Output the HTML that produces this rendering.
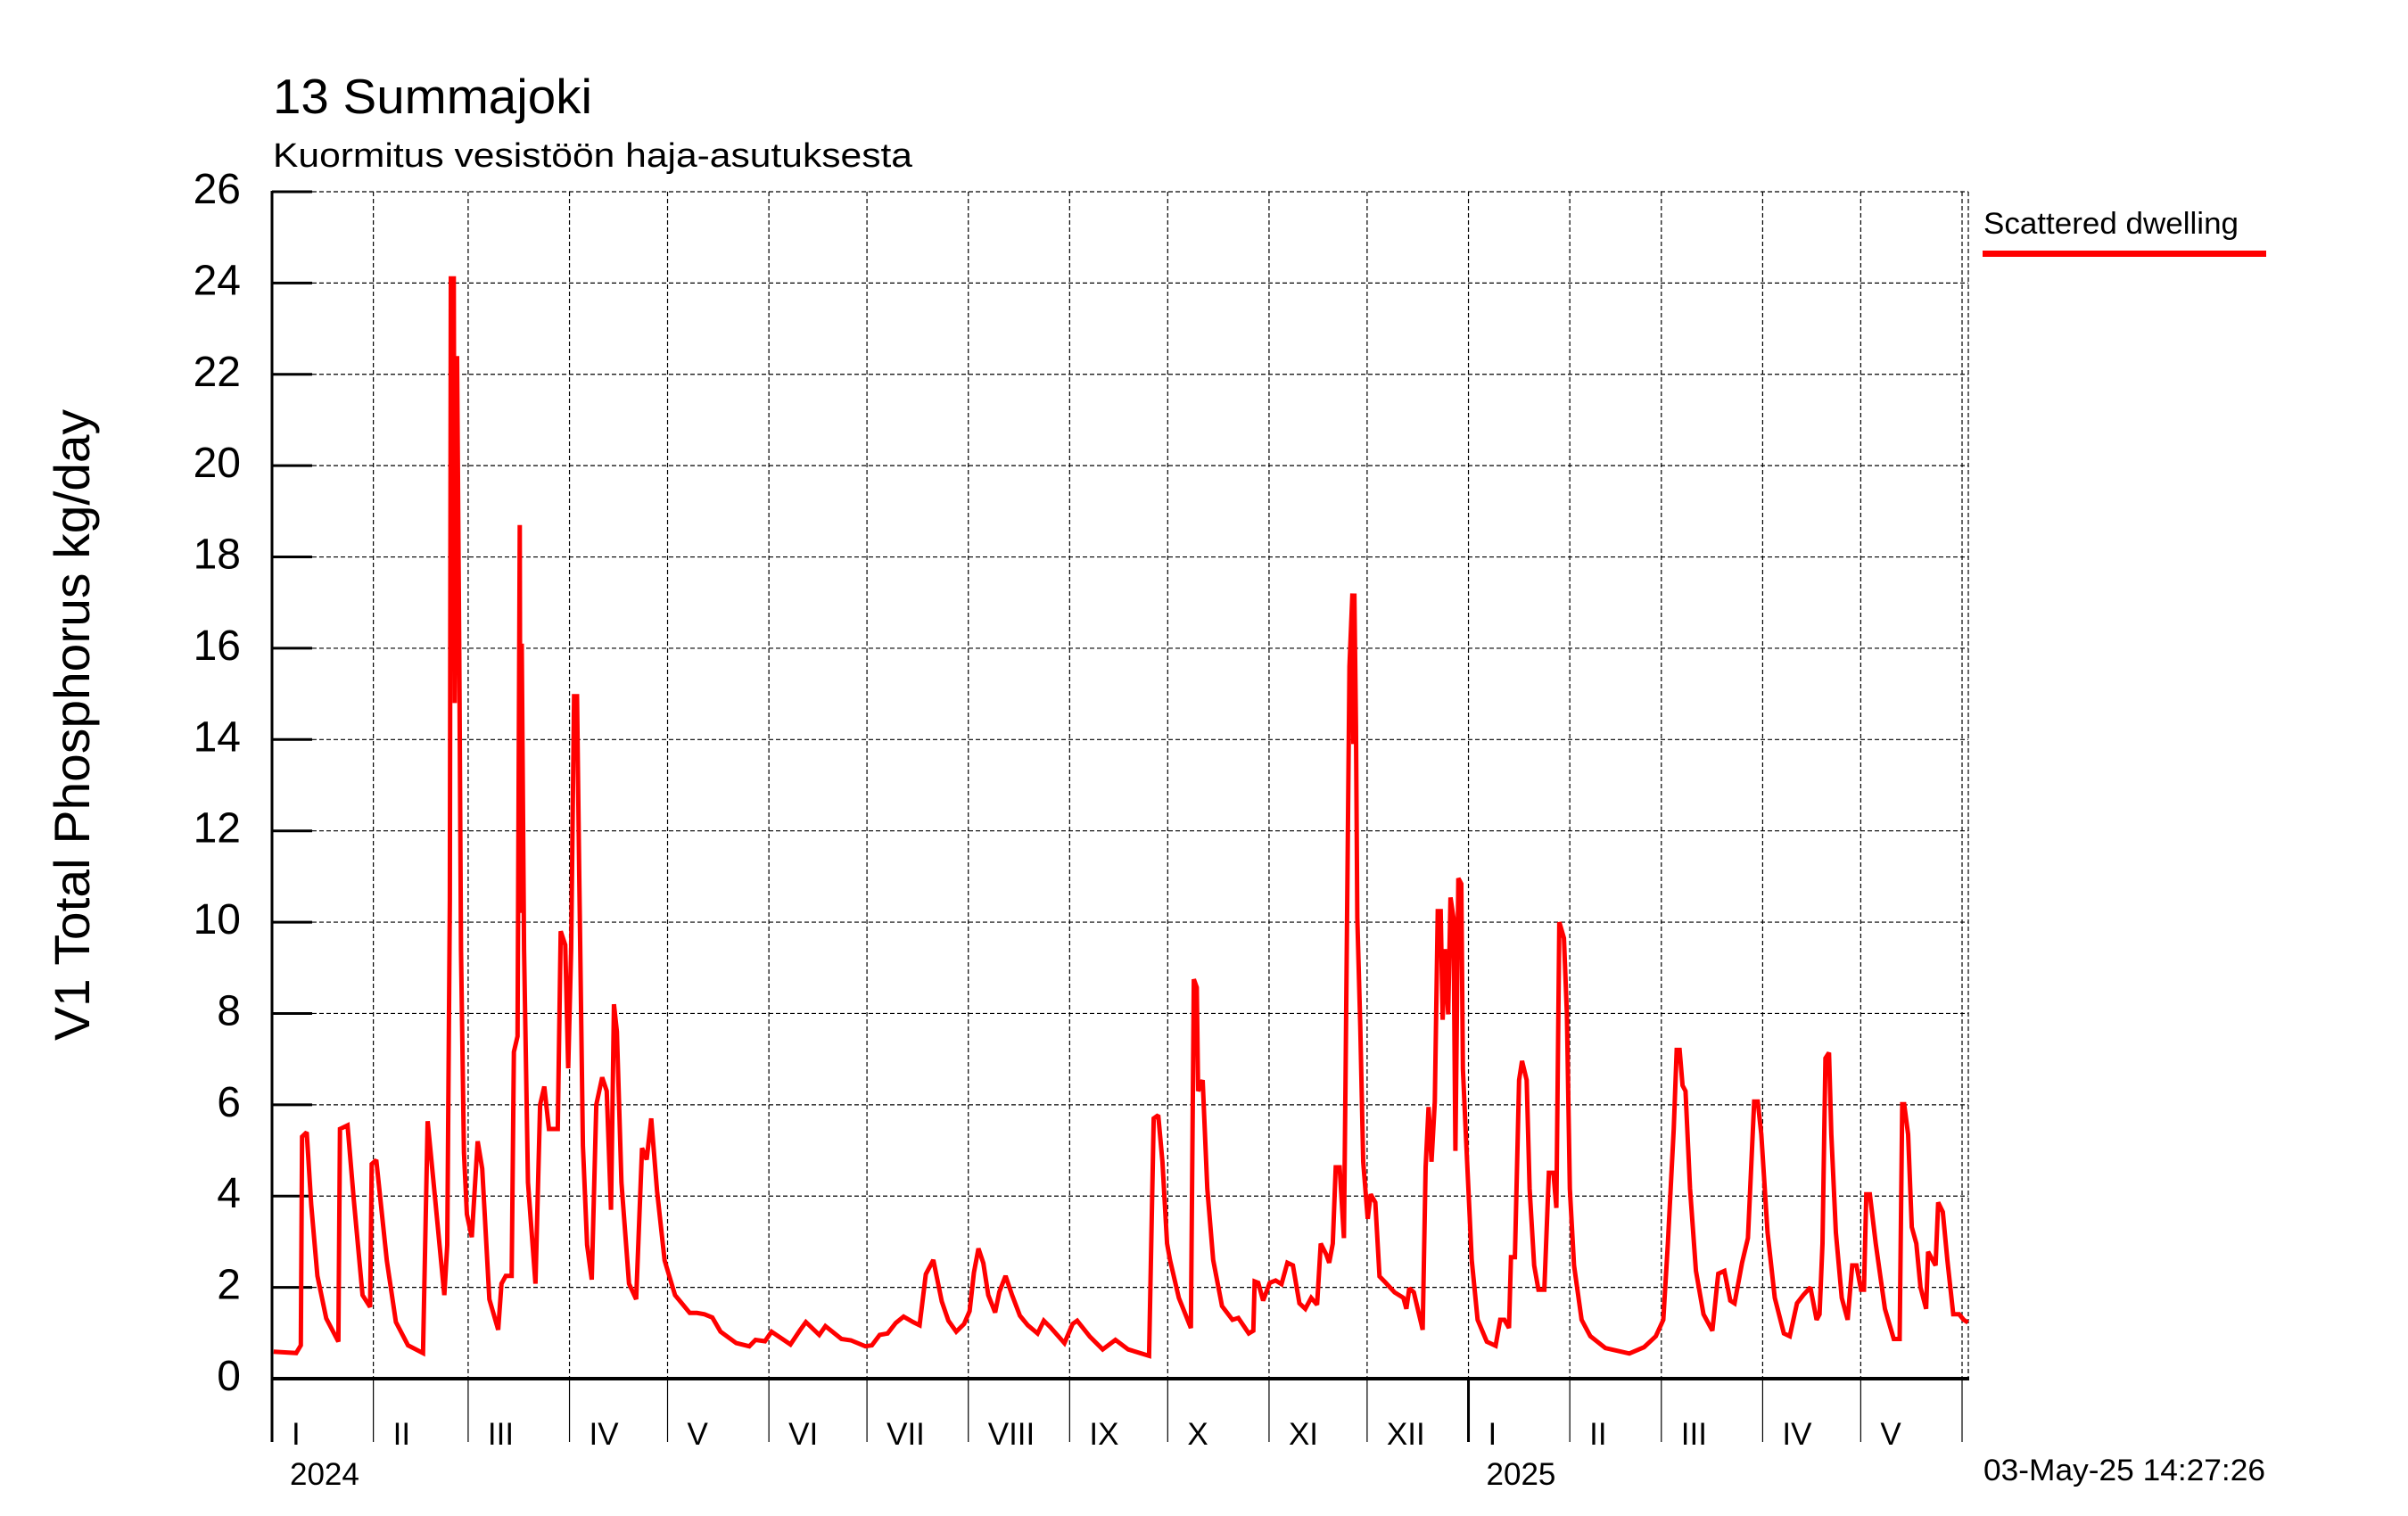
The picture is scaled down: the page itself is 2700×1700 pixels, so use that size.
<!DOCTYPE html>
<html>
<head>
<meta charset="utf-8">
<style>
html,body{margin:0;padding:0;background:#fff;}
svg{display:block;}
text{font-family:"Liberation Sans",Arial,sans-serif;fill:#000;}
</style>
</head>
<body>
<svg id="chart" width="2700" height="1700" viewBox="0 0 2700 1700" xmlns="http://www.w3.org/2000/svg">
  <text x="306" y="127" font-size="55" textLength="358" lengthAdjust="spacingAndGlyphs">13 Summajoki</text>
  <text x="306" y="187" font-size="38" textLength="717" lengthAdjust="spacingAndGlyphs">Kuormitus vesistöön haja-asutuksesta</text>
  <text x="0" y="0" font-size="56" text-anchor="middle" transform="translate(100,813) rotate(-90)" textLength="708" lengthAdjust="spacingAndGlyphs">V1 Total Phosphorus kg/day</text>
  <g id="grid"></g>
  <g id="axes"></g>
  <g id="series"></g>
  <g>
    <text x="2224" y="262" font-size="34" textLength="286" lengthAdjust="spacingAndGlyphs">Scattered dwelling</text>
    <rect x="2223" y="281" width="318" height="7" fill="#ff0000"></rect>
  </g>
  <text x="2224" y="1660" font-size="34" textLength="316" lengthAdjust="spacingAndGlyphs">03-May-25 14:27:26</text>
</svg>
<script>
// Data: days since 2024-01-01 and daily total phosphorus load (kg/day)
const days = [0.5,7.4,8.8,9.2,10.6,12,13.9,16.6,20.3,20.8,23.1,25,27.7,30,30.5,31.9,35.1,37.9,41.6,46.2,47.6,49.9,52.7,53.6,54.4,54.7,55.6,55.9,56.6,57.3,57.8,58.7,59.6,61.1,62.9,64.3,66.5,69.2,70.2,71.5,73.3,74,75.1,75.8,76,76.4,77.1,78.3,80.6,82,83.3,84.7,87.4,88.3,89.7,90.6,91.5,92.4,93.3,94,95.1,96.4,97.8,99.2,101,102.4,103.7,104.6,105.5,106.9,109.2,111.4,113.2,114.6,116,117.8,120.1,123.3,127.8,130,
132.3,134.7,137.2,142,146,147.9,150.8,152.8,158.6,161.5,163.3,167.4,169.3,174.2,177.1,181.5,183.5,185.9,188.3,190.8,193.2,196.1,198.1,200,202.3,204.9,206.9,209.3,211.7,213.4,214.7,216.1,217.6,219.1,221.2,222.5,224.4,226.4,228.8,231.2,234.2,236.1,238.1,242.4,244.9,246.3,250.2,254.1,258,261.9,268.3,
269.7,271.1,272.4,273.8,274.7,277.4,281.1,282,282.9,283.3,284.7,286.1,287.9,290.6,293.8,295.6,298.8,300.2,300.6,301.7,303.2,305.2,307,308.8,310.6,312.3,314.3,316.1,317.9,319.7,320.8,322.5,323.4,324.5,325.4,326.6,327.9,328.4,328.8,329.6,330.5,330.8,331.1,331.6,332,332.9,333.8,335.2,336.1,337.5,338.8,340.7,343.4,346.1,347,347.9,349.3,352,352.9,353.8,354.7,355.7,356.6,357.5,358.1,358.8,359.8,360.5,361.4,362,362.9,363.8,364.3,365.2,367,368.8,371.6,374.3,375.7,377,378.4,379,380.2,
381.5,382.4,383.8,384.7,386.1,387.4,389.2,390.6,392,392.9,393.8,395.2,396.1,397,398.3,400.6,403.3,407.9,415.2,419.7,423.3,425.6,427,428.8,429.7,430.6,431.5,432.4,433.8,435.6,437.9,440.6,442.4,444.3,446.1,447.4,449.7,451.5,453.4,454.5,455.6,457.5,459.7,462.5,464.3,466.5,468.4,470.6,472.5,473.4,474.3,475.2,476.3,477,478.4,480.2,482,483.4,484.7,486.1,487,487.7,488.8,490.6,493.4,496.1,497.9,498.7,499.3,500.5,501.6,503,504.3,506,506.6,508.9,509.7,511.1,512.5,514.3,516.1,517.5,518.8];
const values = [0.59,0.56,0.73,5.3,5.4,3.8,2.25,1.32,0.81,5.47,5.55,3.94,1.83,1.57,4.7,4.79,2.59,1.24,0.73,0.56,5.64,3.94,1.83,2.93,10.5,24.1,24.1,14.8,22.4,15.8,9.4,4.96,3.6,3.1,5.2,4.6,1.74,1.07,2.08,2.25,2.25,7.16,7.5,18.7,10.2,16.1,9.4,4.3,2.08,6.0,6.4,5.47,5.47,9.8,9.5,6.8,9.4,14.95,14.95,11.0,5.1,2.93,2.17,6.0,6.6,6.3,3.7,8.2,7.6,4.3,2.08,1.74,5.05,4.8,5.7,4.1,2.59,1.83,1.44,1.44,
1.41,1.34,1.03,0.78,0.71,0.85,0.82,1.03,0.75,1.06,1.24,0.96,1.15,0.87,0.84,0.71,0.73,0.96,0.99,1.22,1.36,1.24,1.17,2.29,2.6,1.69,1.27,1.03,1.2,1.48,2.32,2.85,2.53,1.83,1.45,1.9,2.25,1.83,1.38,1.17,0.99,1.27,1.13,0.78,1.2,1.27,0.92,0.64,0.85,0.64,0.5,
5.7,5.77,4.75,2.96,2.6,1.77,1.11,8.75,8.57,6.3,6.54,4.16,2.6,1.59,1.29,1.33,0.99,1.05,2.13,2.1,1.71,2.1,2.15,2.07,2.54,2.48,1.65,1.53,1.77,1.62,2.96,2.72,2.54,2.96,4.63,4.63,3.08,6.54,9.65,15.6,17.2,13.9,17.2,14.3,10.1,7.74,4.75,3.5,4.04,3.86,2.24,2.1,1.89,1.77,1.53,1.98,1.89,1.07,4.63,5.95,4.75,6.07,10.24,10.24,7.86,9.41,7.98,10.54,10.1,4.99,10.96,10.84,6.78,5.35,2.6,1.29,0.81,0.72,1.29,1.29,1.11,2.66,2.66,
6.54,6.96,6.54,4.16,2.48,1.95,1.95,4.51,4.51,3.74,10.0,9.65,7.98,4.16,2.48,1.29,0.93,0.67,0.55,0.69,0.93,1.29,2.96,5.47,7.2,7.2,6.42,6.3,4.16,2.36,1.41,1.05,2.3,2.36,1.71,1.65,2.54,3.08,6.07,6.07,5.35,3.2,1.77,0.99,0.93,1.65,1.83,2.0,1.29,1.41,2.96,7.02,7.14,5.35,3.2,1.77,1.29,2.48,2.48,1.95,1.95,4.04,4.04,2.96,1.53,0.87,0.87,6.01,6.01,5.35,3.32,2.96,2.0,1.53,2.78,2.48,3.86,3.65,2.6,1.41,1.41,1.29,1.23];
const yTicks = [0,2,4,6,8,10,12,14,16,18,20,22,24,26];
const yTickLabels = ["0","2","4","6","8","10","12","14","16","18","20","22","24","26"];
const monthStarts = [0,31,60,91,121,152,182,213,244,274,305,335,366,397,425,456,486];
const monthLabels = ["I","II","III","IV","V","VI","VII","VIII","IX","X","XI","XII","I","II","III","IV","V"];
const yearStarts = [0,366];
const yearLabels = ["2024","2025"];
const domainEndDay = 517;

const NS = "http://www.w3.org/2000/svg";
const X0 = 305, XEND = 2200, FRAME_R = 2207;
const Y0 = 1546, YTOP = 215;
function xScale(d){ return X0 + d * (XEND - X0) / domainEndDay; }
function yScale(v){ return Y0 - v * (Y0 - YTOP) / 26; }
function mk(tag, attrs){ const e = document.createElementNS(NS, tag); for (const k in attrs) e.setAttribute(k, attrs[k]); return e; }

const grid = document.getElementById('grid');
const axes = document.getElementById('axes');
const series = document.getElementById('series');

// horizontal grid + y ticks
yTicks.forEach((v, i) => {
  const y = yScale(v);
  if (v > 0) {
    const g = mk('line', {x1: 350, x2: FRAME_R, y1: y, y2: y, stroke: '#000', 'stroke-width': 1.2, 'stroke-dasharray': '5,3'});
    
    
    grid.appendChild(g);
  }
  const t = mk('line', {x1: X0, x2: 350, y1: y, y2: y, stroke: '#000', 'stroke-width': 3});
  
  
  axes.appendChild(t);
  const lab = mk('text', {x: 270, y: y + 13, 'font-size': 48, 'text-anchor': 'end'});
  lab.textContent = yTickLabels[i];
  
  
  axes.appendChild(lab);
});

// vertical month grid + ticks below axis + labels
monthStarts.concat([domainEndDay]).forEach((d, i) => {
  const x = xScale(d);
  if (d > 0) {
    const g = mk('line', {x1: x, x2: x, y1: YTOP, y2: Y0, stroke: '#000', 'stroke-width': 1.2, 'stroke-dasharray': '5,3'});
    
    
    grid.appendChild(g);
  }
  const isYear = yearStarts.indexOf(d) >= 0;
  const t = mk('line', {x1: x, x2: x, y1: Y0, y2: 1617, stroke: '#000', 'stroke-width': isYear ? 3 : 1.2});
  
  
  axes.appendChild(t);
  if (i < monthLabels.length) {
    const lab = mk('text', {x: x + 22, y: 1620, 'font-size': 35});
    lab.textContent = monthLabels[i];
    
    
    axes.appendChild(lab);
  }
});
// right frame dashed
const fr = mk('line', {x1: FRAME_R, x2: FRAME_R, y1: YTOP, y2: Y0, stroke: '#000', 'stroke-width': 1.2, 'stroke-dasharray': '5,3'});


grid.appendChild(fr);

yearStarts.forEach((d, i) => {
  const lab = mk('text', {x: xScale(d) + 20, y: 1665, 'font-size': 35});
  lab.textContent = yearLabels[i];
  
  
  axes.appendChild(lab);
});

// axis lines
const ya = mk('line', {x1: X0, x2: X0, y1: YTOP - 1, y2: 1617, stroke: '#000', 'stroke-width': 3});


axes.appendChild(ya);
const xa = mk('line', {x1: X0, x2: FRAME_R + 1, y1: Y0, y2: Y0, stroke: '#000', 'stroke-width': 4});


axes.appendChild(xa);

// series line
const pts = days.map((d, i) => xScale(d).toFixed(1) + ',' + yScale(values[i]).toFixed(1)).join(' ');
const pl = mk('polyline', {points: pts, fill: 'none', stroke: '#ff0000', 'stroke-width': 5, 'stroke-linejoin': 'miter', 'stroke-miterlimit': 2});


series.appendChild(pl);
</script>
</body>
</html>
